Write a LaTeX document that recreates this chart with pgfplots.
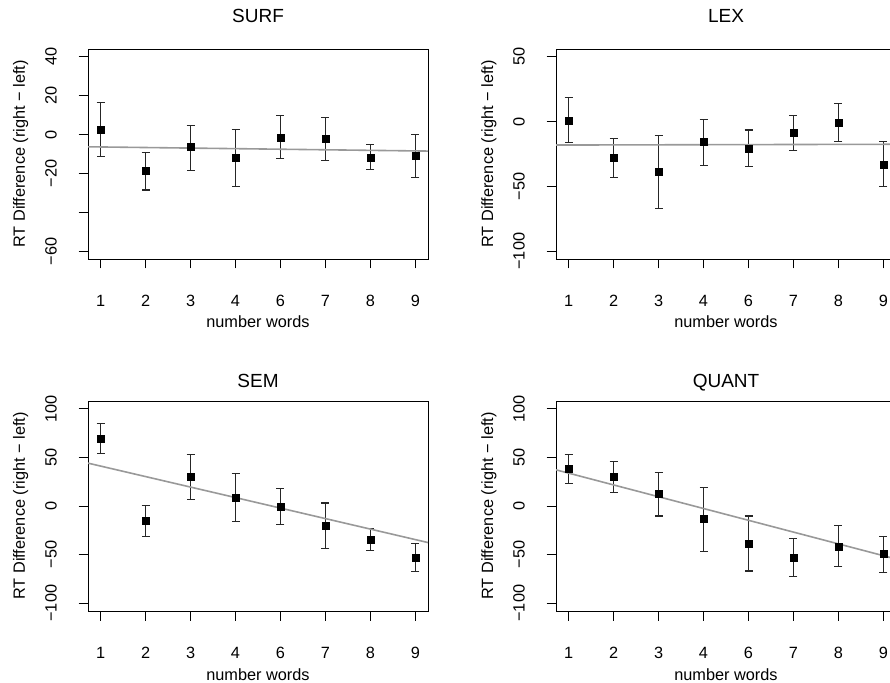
\documentclass[border=0pt]{standalone}
\usepackage{fontspec}
\setmainfont{Liberation Sans}
\usepackage{pgfplots}
\usepackage{pgfplotstable}
\pgfplotsset{compat=1.18}

% one R-style panel: box, outward ticks on left/bottom, rotated y labels
\pgfplotsset{
  rpanel/.style={
    scale only axis, width=340pt, height=210pt,
    xmin=0.72, xmax=8.28,
    xtick={1,...,8}, xticklabels={1,2,3,4,6,7,8,9},
    tick align=outside, tick pos=left,
    major tick length=9.5pt,
    axis line style={line width=0.9pt},
    every tick/.style={black, line width=0.9pt},
    tick label style={font=\fontsize{16.3}{19}\selectfont},
    xticklabel style={anchor=base, yshift=-38pt},
    yticklabel style={xshift=-22pt, rotate=90, anchor=base},
    every axis title shift=0pt,
    title style={font=\fontsize{19}{22}\selectfont, at={(axis description cs:0.5,1)}, anchor=base, yshift=26pt},
    every axis x label/.style={at={(axis description cs:0.5,0)}, anchor=base, yshift=-69pt,
      font=\fontsize{16.3}{19}\selectfont},
    every axis y label/.style={at={(axis description cs:-0.1853,0.5)}, rotate=90, anchor=base,
      font=\fontsize{16.3}{19}\selectfont},
    xlabel={number words},
    ylabel={RT Difference (right − left)},
  },
  pts/.style={only marks, mark=square*, mark size=3.5pt, color=black,
    mark options={fill=black, draw=black},
    error bars/y dir=both, error bars/y explicit,
    error bars/error bar style={line width=1.1pt, black!85},
    error bars/error mark=-,
    error bars/error mark options={rotate=90, mark size=4pt, line width=1.1pt, black!85}},
  fit/.style={no marks, line width=1.6pt, color=black!40},
}

\pgfplotstableread{
x y lo hi
1 2.6 -11.1 16.6
2 -18.8 -28.5 -9.2
3 -6.5 -18.3 4.8
4 -12.0 -26.7 2.7
5 -1.4 -12.5 9.7
6 -2.2 -13.5 8.9
7 -11.8 -18.1 -5.1
8 -11.1 -22.0 -0.2
}\surf
\pgfplotstableread{
x y lo hi
1 1.0 -15.8 18.4
2 -28.0 -43.0 -13.0
3 -38.9 -67.1 -10.4
4 -15.5 -33.9 1.8
5 -21.0 -34.5 -6.5
6 -8.5 -22.0 4.7
7 -0.8 -15.5 14.2
8 -32.9 -50.0 -15.5
}\lex
\pgfplotstableread{
x y lo hi
1 69.3 54.1 85.2
2 -15.5 -31.0 0.3
3 30.0 6.9 53.1
4 9.0 -15.9 33.4
5 -0.7 -18.6 17.6
6 -20.3 -43.4 3.1
7 -34.5 -46.2 -22.8
8 -53.1 -67.6 -38.3
}\sem
\pgfplotstableread{
x y lo hi
1 37.9 22.8 53.1
2 29.7 14.1 45.5
3 12.4 -10.3 34.5
4 -13.4 -46.9 19.3
5 -38.6 -66.9 -10.3
6 -53.1 -72.4 -33.8
7 -41.4 -62.0 -20.3
8 -49.3 -68.3 -31.4
}\quant

\begin{document}
\begin{tikzpicture}
\useasboundingbox (0,0) rectangle (890pt,682pt);
\clip (0,0) rectangle (890pt,682pt);

% SURF
\begin{axis}[rpanel, at={(88pt,423pt)}, anchor=south west, title={SURF},
  ymin=-64, ymax=44, ytick={-60,-40,...,40}, yticklabels={−60,,−20,0,20,40}]
\addplot[pts] table[x=x, y=y, y error plus expr=\thisrow{hi}-\thisrow{y}, y error minus expr=\thisrow{y}-\thisrow{lo}] {\surf};
\addplot[fit] coordinates {(0.72,-6.3) (8.28,-8.5)};
\end{axis}

% LEX
\begin{axis}[rpanel, at={(556pt,423pt)}, anchor=south west, title={LEX},
  ymin=-106, ymax=56, ytick={-100,-50,0,50}, yticklabels={−100,−50,0,50}]
\addplot[pts] table[x=x, y=y, y error plus expr=\thisrow{hi}-\thisrow{y}, y error minus expr=\thisrow{y}-\thisrow{lo}] {\lex};
\addplot[fit] coordinates {(0.72,-18.1) (8.28,-17.5)};
\end{axis}

% SEM
\begin{axis}[rpanel, at={(88pt,71pt)}, anchor=south west, title={SEM},
  title style={yshift=-13pt},
  ymin=-108, ymax=108, ytick={-100,-50,0,50,100}, yticklabels={−100,−50,0,50,100}]
\addplot[pts] table[x=x, y=y, y error plus expr=\thisrow{hi}-\thisrow{y}, y error minus expr=\thisrow{y}-\thisrow{lo}] {\sem};
\addplot[fit] coordinates {(0.72,44.1) (8.28,-37.6)};
\end{axis}

% QUANT
\begin{axis}[rpanel, at={(556pt,71pt)}, anchor=south west, title={QUANT},
  title style={yshift=-13pt},
  ymin=-108, ymax=108, ytick={-100,-50,0,50,100}, yticklabels={−100,−50,0,50,100}]
\addplot[pts] table[x=x, y=y, y error plus expr=\thisrow{hi}-\thisrow{y}, y error minus expr=\thisrow{y}-\thisrow{lo}] {\quant};
\addplot[fit] coordinates {(0.72,37.2) (8.28,-54.5)};
\end{axis}
\end{tikzpicture}
\end{document}
